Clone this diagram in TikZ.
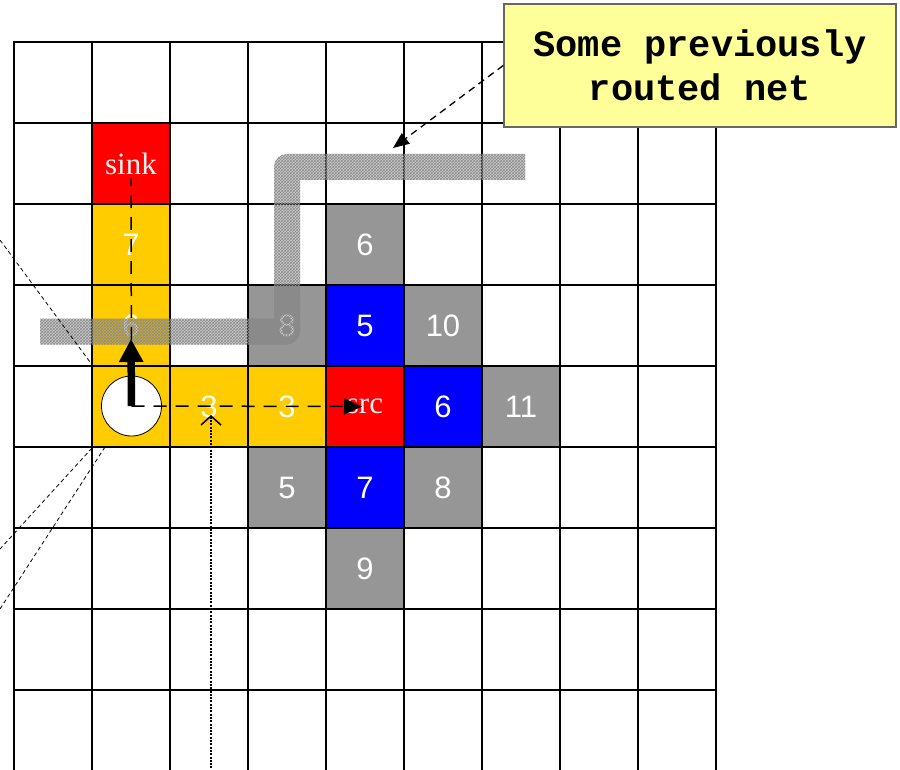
\documentclass[tikz,border=0pt]{standalone}
\usepackage{fontspec}
\setmainfont{Liberation Serif}
\newfontfamily\numfont{Liberation Sans}
\newfontfamily\notefont{Liberation Mono}
\usetikzlibrary{arrows.meta,patterns}
\definecolor{cellyellow}{HTML}{FFCC00}
\definecolor{cellred}{HTML}{FF0000}
\definecolor{cellblue}{HTML}{0000FF}
\definecolor{cellgrey}{HTML}{969696}
\definecolor{notefill}{HTML}{FFFF99}
\definecolor{bandgrey}{HTML}{737373}
\begin{document}
\begin{tikzpicture}[x=1pt,y=-1pt,
  cellbox/.style={minimum width=78pt,minimum height=81pt,inner sep=0pt,text=white,
    font=\numfont\fontsize{31}{31}\selectfont},
  serifcell/.style={cellbox,font=\rmfamily\fontsize{31}{31}\selectfont,text=white!94!black},
  ycell/.style={cellbox,fill=cellyellow},
  rcell/.style={serifcell,fill=cellred},
  bcell/.style={cellbox,fill=cellblue},
  gcell/.style={cellbox,fill=cellgrey},
  gridline/.style={line width=2.6pt,black},
  dashline/.style={line width=1.5pt,dash pattern=on 13pt off 9pt},
  thinline/.style={line width=0.8pt,dash pattern=on 4pt off 3pt},
  notebox/.style={draw=black!60,line width=1.5pt,fill=notefill,minimum width=392pt,
    minimum height=123pt,inner sep=0pt,align=center,
    font=\notefont\bfseries\fontsize{37}{44}\selectfont}
]
\useasboundingbox (0,0) rectangle (900,770);
\fill[white] (0,0) rectangle (900,770);
% coloured cells
\node[rcell] (sink) at (131,163.5) {sink};
\node[ycell] (y7) at (131,244.5) {7};
\node[ycell] (y6) at (131,325.5) {6};
\node[ycell] (ystart) at (131,406.5) {};
\node[ycell] (y3a) at (209,406.5) {3};
\node[ycell] (y3b) at (287,406.5) {3};
\node[rcell] (src) at (365,406.5) {src};
\node[gcell] (g6) at (365,244.5) {6};
\node[gcell] (g8) at (287,325.5) {8};
\node[bcell] (b5) at (365,325.5) {5};
\node[gcell] (g10) at (443,325.5) {10};
\node[bcell] (b6) at (443,406.5) {6};
\node[gcell] (g11) at (521,406.5) {11};
\node[gcell] (g5) at (287,487.5) {5};
\node[bcell] (b7) at (365,487.5) {7};
\node[gcell] (g8b) at (443,487.5) {8};
\node[gcell] (g9) at (365,568.5) {9};
% grid
\foreach \i in {0,...,9} \draw[gridline] ({14+78*\i},42) -- ({14+78*\i},772);
\foreach \j in {0,...,8} \draw[gridline] (12.7,{42+81*\j}) -- (717.3,{42+81*\j});
% previously routed net
\path[fill=bandgrey,fill opacity=0.36,postaction={pattern=crosshatch,pattern color=black!45}]
  (40,318.5) -- (274,318.5) -- (274,167) .. controls (274,159.8) and (279.8,154) .. (287,154)
  -- (525,154) -- (525,180) -- (300,180) -- (300,331.5)
  .. controls (300,338.7) and (292.8,344.5) .. (287,344.5) -- (40,344.5) -- cycle;
% thin dashed lines on the left
\coordinate (la1) at (0,240);
\coordinate (la2) at (90,362);
\coordinate (lb1) at (92,448);
\coordinate (lb2) at (0,549);
\coordinate (lc1) at (105,447);
\coordinate (lc2) at (0,609);
\draw[thinline] (la1) -- (la2);
\draw[thinline] (lb1) -- (lb2);
\draw[thinline] (lc1) -- (lc2);
% start circle
\node[circle,draw=black,line width=0.8pt,fill=white,minimum size=60pt,inner sep=0pt] (circ) at (131.5,406) {};
% arrows
\draw[dashline] (circ.center) -- ([yshift=-15pt]sink.center);
\draw[dashline,-{Triangle[length=18pt,width=16pt]}] (circ.center) -- ([xshift=-3pt]src.center);
\draw[line width=7.5pt,-{Triangle[length=23pt,width=23pt]}] (circ.center) -- ([yshift=-13.5pt]y6.center);
\coordinate (dotbase) at (211,775);
\coordinate (dottip) at (211,415);
\draw[line width=1.6pt,dash pattern=on 2pt off 1.3pt,-{Straight Barb[length=9pt,width=20pt,line width=1.5pt]}] (dotbase) -- (dottip);
% note
\node[notebox] (note) at (700,65.5) {Some previously\\routed net};
\coordinate (nettip) at (393,148);
\draw[line width=1.3pt,dash pattern=on 7pt off 5pt,-{Triangle[length=16pt,width=13pt]}] (note.west) -- (nettip);
\end{tikzpicture}
\end{document}
